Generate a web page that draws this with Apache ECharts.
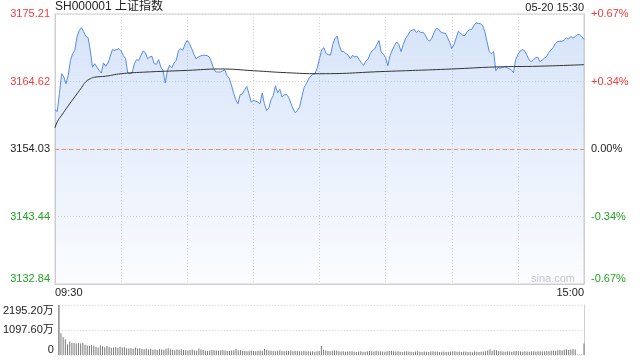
<!DOCTYPE html>
<html><head><meta charset="utf-8">
<script src="https://cdn.jsdelivr.net/npm/echarts@6/dist/echarts.min.js"></script>
<style>html,body{margin:0;padding:0;background:#fff}#c{width:640px;height:360px}</style>
</head><body><div id="c"></div>
<script>
const titleText = 'SH000001 上证指数';
const dateText = '05-20 15:30';
const watermark = 'sina.com';
const prevClose = 3154.03;
const priceMin = 3132.84;
const priceMax = 3175.21;
const priceTickLabels = ['3132.84', '3143.44', '3154.03', '3164.62', '3175.21'];
const pctTickLabels = ['-0.67%', '-0.34%', '0.00%', '+0.34%', '+0.67%'];
const timeTickLabels = ['09:30', '', '', '', '', '', '', '', '15:00'];
const volMax = 2195.20;
const volTickLabels = ['0', '1097.60万', '2195.20万'];

// one price per minute, 09:30-11:30 then 13:00-15:00 (241 points)
const prices = [
3160.17,3159.90,3162.69,3165.84,3165.32,3164.27,3165.57,3167.93,3168.99,3169.51,
3171.62,3172.61,3173.08,3172.41,3171.71,3171.51,3169.51,3166.86,3167.42,3166.90,
3166.36,3165.95,3167.53,3166.99,3167.53,3168.47,3169.62,3169.51,3169.62,3169.78,
3169.42,3168.72,3168.20,3165.95,3165.84,3165.95,3167.42,3168.05,3167.93,3168.72,
3169.42,3169.15,3168.20,3168.47,3168.57,3167.42,3167.31,3168.05,3166.90,3166.36,
3164.38,3166.31,3167.15,3166.79,3167.53,3167.93,3169.42,3169.78,3169.51,3170.50,
3171.08,3170.56,3169.78,3168.88,3168.20,3168.47,3168.63,3168.72,3168.75,3168.68,
3168.47,3167.68,3166.63,3166.11,3166.11,3166.11,3166.27,3166.47,3165.57,3165.13,
3164.11,3162.85,3161.75,3161.12,3162.53,3162.69,3163.32,3163.84,3162.69,3161.38,
3161.64,3161.54,3161.38,3161.12,3162.80,3161.12,3160.06,3160.49,3161.75,3162.38,
3163.95,3162.85,3163.40,3162.17,3162.53,3162.61,3162.14,3161.20,3160.33,3159.70,
3160.09,3160.64,3162.22,3163.64,3164.27,3164.97,3165.45,3165.76,3165.84,3166.79,
3168.20,3169.62,3169.93,3168.99,3168.83,3168.75,3170.41,3171.35,3171.75,3170.25,
3169.31,3169.31,3168.99,3168.75,3168.20,3168.72,3168.47,3168.60,3168.05,3167.57,
3167.15,3167.81,3168.12,3168.99,3169.46,3169.70,3170.41,3171.04,3169.26,3168.91,
3168.36,3167.10,3168.68,3169.54,3170.25,3170.83,3170.41,3169.31,3170.41,3171.35,
3171.82,3172.45,3172.69,3172.77,3172.30,3172.61,3172.30,3172.34,3171.90,3171.19,
3170.96,3171.43,3172.30,3172.93,3172.85,3172.38,3172.22,3172.22,3171.59,3170.80,
3169.78,3170.41,3171.43,3172.50,3172.22,3171.82,3171.82,3172.45,3172.72,3172.77,
3173.40,3173.82,3173.71,3173.71,3173.35,3172.45,3170.88,3169.31,3168.99,3169.31,
3166.31,3166.79,3166.71,3166.79,3166.94,3166.79,3166.63,3166.47,3166.00,3168.05,
3168.83,3169.38,3169.62,3169.46,3168.83,3168.05,3167.73,3167.97,3168.36,3168.44,
3167.73,3167.97,3168.28,3168.52,3169.15,3169.54,3169.93,3170.56,3170.88,3170.93,
3170.93,3171.12,3171.46,3171.30,3171.67,3171.43,3171.67,3171.98,3171.98,3171.67,
3171.19
];

// average price line, read at these minutes
const avgMinutes = [0, 1, 3, 6, 9, 12, 14, 16, 18, 23, 30, 40, 60, 75, 90, 105, 120, 150, 180, 200, 220, 240];
const avgValues = [3157.34, 3158.28, 3159.31, 3160.80, 3162.22, 3163.64, 3164.58, 3165.05, 3165.29, 3165.45, 3165.84, 3166.08, 3166.36, 3166.58, 3166.31, 3166.00, 3165.84, 3166.20, 3166.58, 3166.90, 3167.02, 3167.26];

// volume per minute, in 万
const volumes = [
2195.2,950,780,690,470,590,540,530,500,520,510,530,450,420,400,430,410,360,330,420,
380,340,400,350,320,330,340,310,360,330,340,300,290,310,270,330,280,300,260,250,
280,240,270,230,250,220,260,240,230,270,300,250,220,210,240,230,250,220,210,200,
220,240,200,190,280,240,220,190,180,200,220,210,200,190,210,220,200,190,180,200,
210,260,200,220,190,180,170,190,200,180,170,190,200,180,260,230,200,190,180,170,
190,210,180,170,190,180,200,170,190,180,170,160,190,170,160,150,170,140,160,180,
400,
230,200,180,160,190,210,200,170,150,160,140,150,170,160,140,130,150,160,140,130,
170,180,160,150,190,170,160,150,140,170,180,190,170,150,160,140,130,150,160,150,
140,130,150,160,140,130,150,140,130,150,160,140,150,130,140,150,130,140,150,170,
160,140,150,130,140,150,130,140,120,150,140,130,140,150,170,200,250,180,230,210,
170,160,150,140,160,150,140,170,180,160,150,140,160,150,140,160,170,150,160,170,
150,160,180,170,190,200,180,210,220,200,230,250,220,240,260,240,20,15,20,510
];

const RED = '#f03c3c', GREEN = '#22a322', BLACK = '#222';
const FONT = 'Arial, "Liberation Sans", "Noto Sans CJK SC", sans-serif';
const priceInterval = (priceMax - priceMin) / 4;
const tickIndex = v => Math.round((v - priceMin) / priceInterval);
const tickColor = v => { const i = tickIndex(v); return i > 2 ? RED : (i < 2 ? GREEN : BLACK); };
const dotted = { color: '#d2d2d2', type: [1, 2], width: 1 };

const chart = echarts.init(document.getElementById('c'), null, { renderer: 'canvas' });
chart.setOption({
  animation: false,
  textStyle: { fontFamily: FONT },
  title: [
    { text: titleText, left: 55, top: 1, padding: 0, textStyle: { fontSize: 12, fontWeight: 'normal', color: BLACK, fontFamily: FONT } },
    { text: dateText, right: 56, top: 2, padding: 0, textStyle: { fontSize: 11, fontWeight: 'normal', color: BLACK, fontFamily: FONT } }
  ],
  graphic: [
    { type: 'text', left: 531, top: 273, silent: true, style: { text: watermark, fill: '#c8c8c8', font: '11px ' + FONT } }
  ],
  grid: [
    { left: 55, right: 56, top: 14, height: 270, show: true, borderColor: '#cfcfcf', borderWidth: 1 },
    { left: 55, right: 56, top: 305, height: 50, show: false }
  ],
  xAxis: [
    {
      type: 'value', gridIndex: 0, min: 0, max: 240, interval: 30,
      axisLine: { show: true, lineStyle: { color: '#cfcfcf' } },
      axisTick: { show: false },
      splitLine: { show: true, lineStyle: dotted },
      axisLabel: {
        margin: 3, fontSize: 11, color: BLACK, fontFamily: FONT,
        alignMinLabel: 'left', alignMaxLabel: 'right',
        formatter: v => timeTickLabels[Math.round(v / 30)] || ''
      }
    },
    {
      type: 'value', gridIndex: 1, min: 0, max: 240, interval: 30,
      axisLine: { show: false }, axisTick: { show: false },
      splitLine: { show: false }, axisLabel: { show: false }
    }
  ],
  yAxis: [
    {
      type: 'value', gridIndex: 0, min: priceMin, max: priceMax, interval: priceInterval,
      axisLine: { show: true, lineStyle: { color: '#cfcfcf' } }, axisTick: { show: false },
      splitLine: { show: true, lineStyle: dotted },
      axisLabel: {
        margin: 5, fontSize: 11, fontFamily: FONT,
        verticalAlignMinLabel: 'bottom', verticalAlignMaxLabel: 'top',
        color: v => tickColor(v),
        formatter: v => priceTickLabels[tickIndex(v)]
      }
    },
    {
      type: 'value', gridIndex: 0, position: 'right', min: priceMin, max: priceMax, interval: priceInterval,
      axisLine: { show: true, lineStyle: { color: '#cfcfcf' } }, axisTick: { show: false },
      splitLine: { show: false },
      axisLabel: {
        margin: 7, fontSize: 11, fontFamily: FONT,
        verticalAlignMinLabel: 'bottom', verticalAlignMaxLabel: 'top',
        color: v => tickColor(v),
        formatter: v => pctTickLabels[tickIndex(v)]
      }
    },
    {
      type: 'value', gridIndex: 1, min: 0, max: volMax, interval: volMax / 2,
      axisLine: { show: true, lineStyle: { color: '#cfcfcf' } }, axisTick: { show: false },
      splitLine: { show: true, lineStyle: dotted },
      axisLabel: {
        margin: 5, fontSize: 11, color: BLACK, fontFamily: FONT,
        verticalAlignMinLabel: 'bottom', verticalAlignMaxLabel: 'top',
        formatter: v => volTickLabels[Math.round(v / (volMax / 2))]
      }
    },
    {
      type: 'value', gridIndex: 1, position: 'right', min: 0, max: volMax, interval: volMax / 2,
      axisLine: { show: true, lineStyle: { color: '#cfcfcf' } }, axisTick: { show: false },
      splitLine: { show: false }, axisLabel: { show: false }
    }
  ],
  series: [
    {
      type: 'line', xAxisIndex: 0, yAxisIndex: 0, showSymbol: false, silent: true,
      data: prices.map((p, i) => [i, p]),
      lineStyle: { color: '#5589ec', width: 1 },
      areaStyle: {
        origin: 'start',
        color: new echarts.graphic.LinearGradient(0, 0, 0, 1, [
          { offset: 0, color: 'rgba(140,178,238,0.5)' },
          { offset: 1, color: 'rgba(140,178,238,0.06)' }
        ])
      },
      markLine: {
        silent: true, symbol: 'none', label: { show: false },
        lineStyle: { color: '#e8906a', type: [4, 3], width: 1, opacity: 1 },
        data: [{ yAxis: prevClose }]
      },
      z: 2
    },
    {
      type: 'line', xAxisIndex: 0, yAxisIndex: 0, showSymbol: false, silent: true, smooth: true,
      data: avgMinutes.map((m, i) => [m, avgValues[i]]),
      lineStyle: { color: '#333', width: 1 },
      z: 3
    },
    {
      type: 'bar', xAxisIndex: 1, yAxisIndex: 2, silent: true, barWidth: 1,
      data: volumes.map((v, i) => [i, v]),
      itemStyle: { color: '#777' }
    }
  ]
});
</script>
</body></html>
